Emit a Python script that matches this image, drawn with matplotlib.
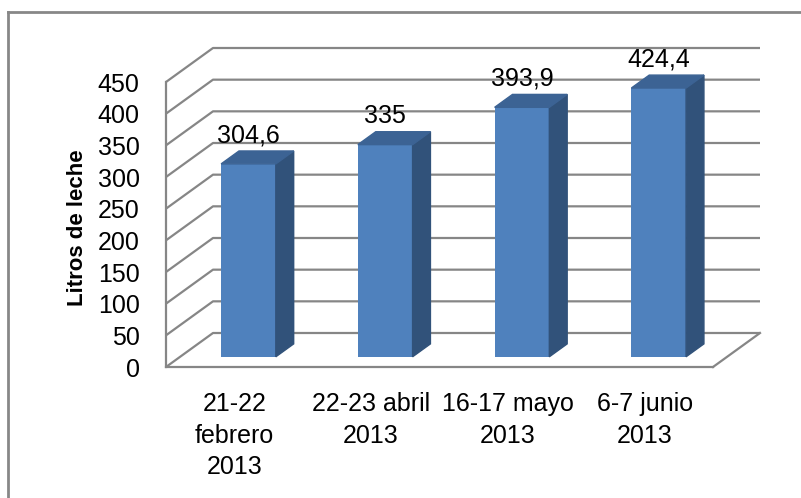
import matplotlib
matplotlib.use('Agg')
import matplotlib.pyplot as plt
from matplotlib.patches import Polygon
from matplotlib.lines import Line2D
import numpy as np

# datos
categorias = ['21-22\nfebrero\n2013', '22-23 abril\n2013', '16-17 mayo\n2013', '6-7 junio\n2013']
litros = [304.6, 335, 393.9, 424.4]
etiquetas = ['304,6', '335', '393,9', '424,4']
yticks = [0, 50, 100, 150, 200, 250, 300, 350, 400, 450]

plt.rcParams['font.family'] = ['Liberation Sans', 'DejaVu Sans']
fs = 18

gris = '#868686'
c_frente = '#4F81BD'
c_lado = '#31527A'
c_tapa = '#3C6394'

W, H = 801, 498
fig = plt.figure(figsize=(W / 100, H / 100), dpi=100)
ax = fig.add_axes([166 / W, (H - 367) / H, (713 - 166) / W, (367 - 82) / H])
ax.set_xlim(0, len(litros))
ax.set_ylim(0, 450)

# profundidad de la "caja" 3D en unidades de datos
DX = 47 * len(litros) / 547
DY = 34 * 450 / 285

# paredes y rejilla
for v in yticks:
    ax.plot([0, DX, len(litros) + DX], [v, v + DY, v + DY], color=gris, lw=1.6,
            clip_on=False, zorder=1, solid_capstyle='butt')
ax.plot([len(litros), len(litros) + DX], [0, DY], color=gris, lw=1.6, clip_on=False, zorder=1)

# barras
x = np.arange(len(litros)) + 0.5
w = 0.40
f0, fd = 0.30, 0.38
ox, oy = f0 * DX, f0 * DY
bx, by = fd * DX, fd * DY
ax.bar(x + ox, litros, width=w, bottom=oy, color=c_frente, zorder=3, clip_on=False)
for xi, v, txt in zip(x, litros, etiquetas):
    l, r = xi + ox - w / 2, xi + ox + w / 2
    top = oy + v
    ax.add_patch(Polygon([(r, oy), (r + bx, oy + by), (r + bx, top + by), (r, top)],
                         closed=True, color=c_lado, zorder=3, clip_on=False))
    ax.add_patch(Polygon([(l, top), (r, top), (r + bx, top + by), (l + bx, top + by)],
                         closed=True, color=c_tapa, zorder=3, clip_on=False))
    ax.annotate(txt, (xi + ox, top), xytext=(0, 12), textcoords='offset points',
                ha='center', va='bottom', fontsize=fs, color='black', zorder=4)

# ejes
for s in ['top', 'right']:
    ax.spines[s].set_visible(False)
for s in ['left', 'bottom']:
    ax.spines[s].set_color(gris)
    ax.spines[s].set_linewidth(1.6)
    ax.spines[s].set_zorder(2)
ax.set_yticks(yticks)
ax.set_yticklabels([str(t) for t in yticks], fontsize=fs)
ax.set_xticks(x)
ax.set_xticklabels(categorias, fontsize=fs, linespacing=1.4)
ax.tick_params(axis='y', length=0, pad=19)
ax.tick_params(axis='x', length=0, pad=18)
ax.set_facecolor('none')

ax.set_ylabel('Litros de leche', fontsize=16, fontweight='bold')
ax.yaxis.set_label_coords(-0.142, 0.49)

# marco del gráfico
fig.add_artist(Line2D([8 / W, 8 / W], [-0.01, (H - 12) / H], color='#878787', lw=2))
fig.add_artist(Line2D([8 / W, 1.01], [(H - 12) / H, (H - 12) / H], color='#878787', lw=2))

fig.savefig('out.png', dpi=100)
